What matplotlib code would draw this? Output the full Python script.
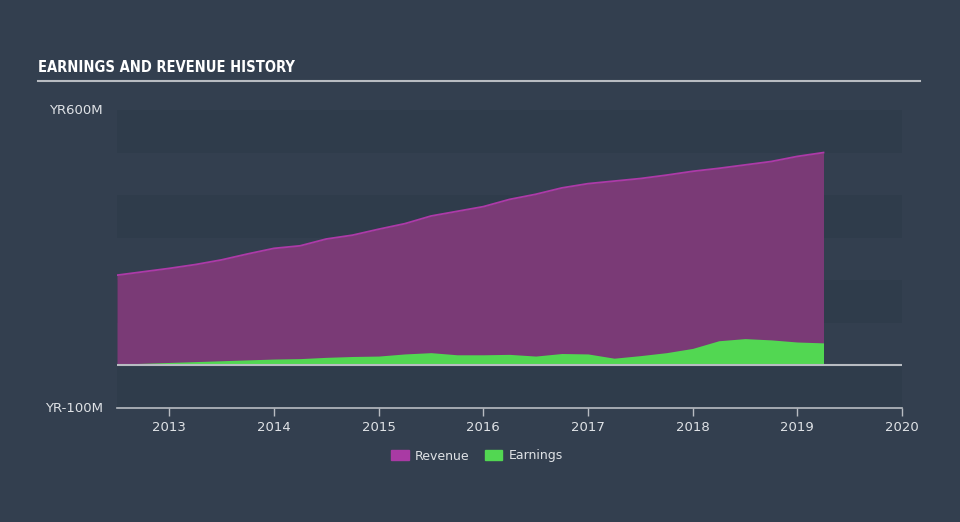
import matplotlib.pyplot as plt
from matplotlib.patches import Patch

# quarterly data, millions
years = [2012.5, 2012.75, 2013.0, 2013.25, 2013.5, 2013.75, 2014.0, 2014.25,
         2014.5, 2014.75, 2015.0, 2015.25, 2015.5, 2015.75, 2016.0, 2016.25,
         2016.5, 2016.75, 2017.0, 2017.25, 2017.5, 2017.75, 2018.0, 2018.25,
         2018.5, 2018.75, 2019.0, 2019.25]
revenue = [212, 220, 228, 237, 248, 262, 275, 281, 297, 306, 320, 333, 351, 362,
           373, 390, 402, 417, 427, 433, 439, 447, 456, 463, 471, 479, 491, 500]
earnings = [3, 5, 7, 9, 11, 13, 15, 16, 19, 21, 22, 27, 30, 25, 25, 26, 22, 28,
            27, 17, 23, 30, 40, 58, 63, 60, 55, 53]
xticks = [2013, 2014, 2015, 2016, 2017, 2018, 2019, 2020]

bg = '#333f4f'
fig = plt.figure(figsize=(9.6, 5.22), dpi=100, facecolor=bg)
ax = fig.add_axes([117/960, 1-408/522, 785/960, 298/522])
ax.set_facecolor(bg)
ax.set_xlim(2012.5, 2020)
ax.set_ylim(-100, 600)

# alternating bands
for lo in [500, 300, 100, -100]:
    ax.axhspan(lo, lo + 100, color='#2d3a49', alpha=0.55, lw=0, zorder=0)

ax.fill_between(years, revenue, 0, color='#7a3a76', lw=0, zorder=2)
ax.plot(years, revenue, color='#ad3aa8', lw=1.3, zorder=3)
ax.fill_between(years, earnings, 0, color='#52d752', lw=0, zorder=4)
ax.axhline(0, color='#b8bcc2', lw=1.5, zorder=5)

for s in ['top', 'right', 'left']:
    ax.spines[s].set_visible(False)
ax.spines['bottom'].set_color('#b8bcc2')
ax.spines['bottom'].set_linewidth(1.2)
ax.set_xticks(xticks)
ax.set_xticklabels([str(y) for y in xticks])
ax.tick_params(axis='x', colors='#b8bcc2', labelcolor='#dfe2e6', labelsize=9.5,
               length=6, direction='out', width=1)
ax.set_yticks([])

fig.text(103/960, 1-110/522, 'YR600M', color='#dfe2e6', fontsize=9.5,
         ha='right', va='center')
fig.text(103/960, 1-408/522, 'YR-100M', color='#dfe2e6', fontsize=9.5,
         ha='right', va='center')

fig.text(38/960, 1-68/522, 'EARNINGS AND REVENUE HISTORY', color='white',
         fontsize=10.5, fontweight='bold', fontstretch='condensed',
         family='DejaVu Sans', va='center')
fig.add_artist(plt.Line2D([38/960, 920/960], [1-81/522, 1-81/522],
                          color='#b8bcc2', lw=1.5))

handles = [Patch(color='#a93aa4', label='Revenue'),
           Patch(color='#52d752', label='Earnings')]
fig.legend(handles=handles, loc='center', bbox_to_anchor=(477/960, 1-456/522),
           ncol=2, frameon=False, labelcolor='#dfe2e6', fontsize=9,
           handlelength=1.4, handleheight=0.9, columnspacing=1.2,
           handletextpad=0.5)

fig.savefig('out.png', dpi=100, facecolor=bg)
